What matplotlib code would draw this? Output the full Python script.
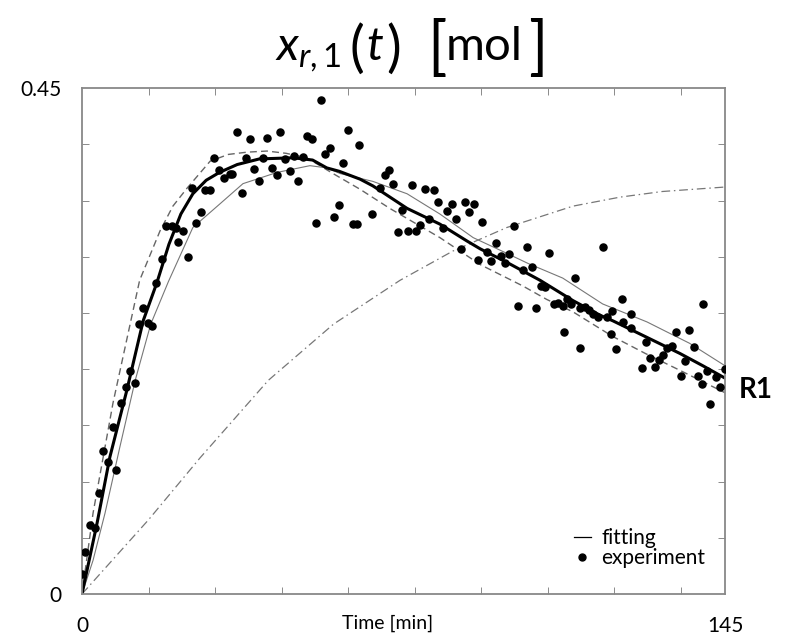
import matplotlib.pyplot as plt
from matplotlib.lines import Line2D

plt.rcParams['font.family'] = ['Lato', 'DejaVu Sans']
plt.rcParams['mathtext.fontset'] = 'custom'
plt.rcParams['mathtext.rm'] = 'Lato'
plt.rcParams['mathtext.it'] = 'Lato:italic'

# experiment points (time [min], x_r1 [mol])
exp_t = [0.0, 0.7, 1.8, 2.9, 3.9, 4.8, 5.9, 7.0, 7.7, 8.9, 9.9, 10.8, 11.9, 12.9, 13.8,
         14.9, 15.9, 16.8, 18.0, 18.9, 20.2, 21.3, 21.7, 22.8, 23.8, 24.9, 25.7, 26.8,
         27.7, 28.8, 29.8, 30.9, 32.1, 33.4, 33.9, 35.0, 36.0, 36.9, 37.9, 38.8, 39.9,
         40.9, 41.8, 42.8, 43.9, 44.6, 45.8, 46.9, 47.8, 48.7, 49.9, 50.7, 51.8, 52.8,
         53.9, 54.8, 55.9, 56.8, 58.0, 58.9, 59.9, 61.0, 62.0, 62.5, 65.4, 67.2, 68.3,
         69.2, 70.2, 71.3, 72.2, 73.4, 74.3, 75.3, 76.2, 77.3, 78.3, 79.4, 80.3, 81.3,
         82.2, 83.4, 84.3, 85.4, 86.3, 87.3, 88.4, 89.4, 90.2, 91.4, 92.3, 93.3, 94.4,
         95.3, 96.3, 97.3, 98.4, 99.4, 100.3, 101.4, 102.3, 103.4, 104.3, 105.3, 106.4,
         107.4, 108.4, 108.6, 109.4, 110.3, 111.2, 112.3, 112.4, 113.4, 114.4, 115.3,
         116.4, 117.4, 118.3, 119.2, 119.4, 120.5, 121.8, 121.9, 123.7, 123.9, 126.2,
         127.2, 128.1, 129.2, 130.1, 131.1, 132.0, 133.1, 134.0, 135.0, 136.0, 136.9,
         138.1, 138.9, 139.9, 140.0, 140.9, 141.6, 142.9, 143.8, 145.0]
exp_x = [0.018, 0.037, 0.061, 0.059, 0.090, 0.127, 0.117, 0.149, 0.110, 0.170, 0.184,
         0.198, 0.188, 0.240, 0.254, 0.241, 0.238, 0.277, 0.298, 0.327, 0.327, 0.326,
         0.313, 0.323, 0.300, 0.361, 0.330, 0.340, 0.359, 0.359, 0.388, 0.377, 0.370,
         0.374, 0.374, 0.411, 0.357, 0.388, 0.405, 0.378, 0.367, 0.388, 0.406, 0.379,
         0.373, 0.411, 0.387, 0.376, 0.390, 0.367, 0.389, 0.407, 0.405, 0.330, 0.439,
         0.391, 0.397, 0.335, 0.346, 0.383, 0.413, 0.329, 0.329, 0.399, 0.338, 0.361,
         0.373, 0.377, 0.365, 0.322, 0.342, 0.323, 0.364, 0.323, 0.328, 0.360, 0.334,
         0.359, 0.349, 0.326, 0.341, 0.347, 0.334, 0.307, 0.349, 0.340, 0.347, 0.297,
         0.331, 0.304, 0.296, 0.312, 0.301, 0.294, 0.302, 0.327, 0.256, 0.288, 0.309,
         0.291, 0.254, 0.274, 0.273, 0.303, 0.258, 0.259, 0.256, 0.233, 0.262, 0.258,
         0.281, 0.254, 0.219, 0.255, 0.253, 0.249, 0.246, 0.309, 0.246, 0.231, 0.252,
         0.218, 0.262, 0.242, 0.237, 0.249, 0.201, 0.224, 0.210, 0.202, 0.208, 0.213,
         0.219, 0.221, 0.233, 0.194, 0.207, 0.235, 0.220, 0.194, 0.187, 0.258, 0.198,
         0.169, 0.193, 0.184, 0.200]

# fitted curve (thick)
fit_t = [0, 3.4, 6.3, 10.1, 13.8, 16.9, 19.6, 22.3, 25, 28, 31, 35, 40, 47.6, 52,
         55.2, 58, 62.7, 65.6, 73.3, 80.7, 86.8, 89.8, 95.8, 103.3, 110.7, 116.8,
         119.7, 127, 134.8, 140, 145]
fit_x = [0, 0.063, 0.122, 0.181, 0.243, 0.277, 0.311, 0.338, 0.356, 0.368, 0.375,
         0.382, 0.387, 0.388, 0.386, 0.379, 0.376, 0.369, 0.363, 0.343, 0.329, 0.314,
         0.307, 0.295, 0.279, 0.261, 0.248, 0.243, 0.229, 0.214, 0.203, 0.192]

# dashed bound
lo_t = [0, 2.5, 7, 13, 17.6, 20.5, 23.7, 28.9, 33, 37.2, 41.7, 46, 50.7, 56.6, 62.7,
        69.4, 80.7, 89.8, 99.4, 104.8, 110.7, 119.7, 127, 134.8, 145]
lo_x = [0, 0.072, 0.170, 0.279, 0.323, 0.345, 0.361, 0.385, 0.391, 0.393, 0.394,
        0.392, 0.388, 0.374, 0.360, 0.343, 0.317, 0.293, 0.274, 0.262, 0.251, 0.229,
        0.214, 0.199, 0.179]

# thin solid bound
hi_t = [0, 2.5, 5.2, 8.5, 12, 15.5, 19.5, 25, 31.1, 36.3, 44, 51.4, 55.2, 58.2, 65.6,
        73.3, 80.7, 88.2, 95.8, 100.6, 108.4, 117.4, 127.4, 137, 145]
hi_x = [0, 0.030, 0.072, 0.130, 0.190, 0.240, 0.278, 0.326, 0.347, 0.365, 0.375,
        0.381, 0.379, 0.374, 0.367, 0.356, 0.338, 0.317, 0.303, 0.294, 0.281, 0.258,
        0.242, 0.223, 0.203]

# dash-dot curve
dd_t = [0, 15, 26.6, 42, 56.7, 71.7, 83.6, 95.8, 110.7, 121.3, 130.8, 145]
dd_x = [0, 0.066, 0.121, 0.190, 0.240, 0.279, 0.305, 0.326, 0.345, 0.353, 0.358, 0.362]

fig = plt.figure(figsize=(7.92, 6.36), dpi=100)
ax = fig.add_axes([0.1035, 0.066, 0.812, 0.7955])

ax.plot(dd_t, dd_x, color='#777777', lw=0.9, ls=(0, (7, 3, 1.2, 3)))
ax.plot(lo_t, lo_x, color='#666666', lw=1.0, ls=(0, (5, 3)))
ax.plot(hi_t, hi_x, color='#777777', lw=0.8)
ax.plot(fit_t, fit_x, color='black', lw=2.2)
ax.scatter(exp_t, exp_x, s=26, color='black', zorder=3)

ax.set_xlim(0, 145)
ax.set_ylim(0, 0.45)

ax.set_xticks([0, 145])
ax.set_xticklabels(['0', '145'], fontsize=15)
ax.set_yticks([0, 0.45])
ax.set_yticklabels(['0', '0.45'], fontsize=15)
ax.tick_params(axis='x', which='major', length=0, pad=16)
ax.tick_params(axis='y', which='major', length=0, pad=15)
ax.set_xticks(range(15, 145, 15), minor=True)
ax.set_yticks([0.05 * i for i in range(1, 9)], minor=True)
ax.tick_params(which='minor', direction='in', length=5, color='#777777',
               top=True, right=True)
for s in ax.spines.values():
    s.set_color('#888888')
    s.set_linewidth(1.3)

ax.text(0.475, -0.057, 'Time [min]', transform=ax.transAxes, ha='center', va='center',
        fontsize=14)
ax.text(1.022, 0.403, 'R1', transform=ax.transAxes, ha='left', va='center',
        fontsize=20, fontweight='bold')

handles = [Line2D([], [], color='black', lw=0.9),
           Line2D([], [], color='black', ls='none', marker='o', markersize=5)]
ax.legend(handles, ['fitting', 'experiment'], loc='lower right',
          bbox_to_anchor=(0.985, 0.03), frameon=False, fontsize=15,
          handlelength=0.8, handletextpad=0.5, labelspacing=0.0, borderpad=0)

# title pieces (x_{r,1}(t) [mol]) with tall brackets
title_y = 0.905
fig.text(275 / 792, title_y, r'$x_{r,1}$', ha='left', va='baseline', fontsize=34)
fig.text(349 / 792, title_y - 0.008, '(', ha='left', va='baseline', fontsize=40)
fig.text(366 / 792, title_y, r'$t$', ha='left', va='baseline', fontsize=34)
fig.text(386 / 792, title_y - 0.008, ')', ha='left', va='baseline', fontsize=40)
fig.text(427 / 792, title_y - 0.012, '[', ha='left', va='baseline', fontsize=46)
fig.text(446 / 792, title_y, 'mol', ha='left', va='baseline', fontsize=34)
fig.text(528 / 792, title_y - 0.012, ']', ha='left', va='baseline', fontsize=46)

fig.savefig('out.png', dpi=100)
